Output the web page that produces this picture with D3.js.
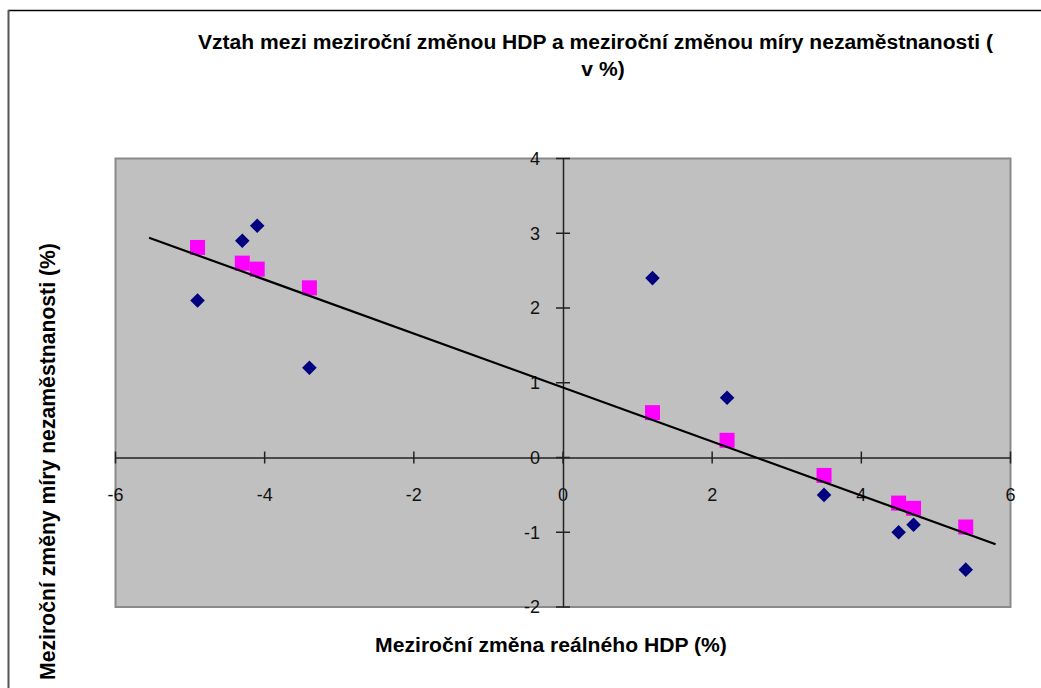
<!DOCTYPE html>
<html>
<head>
<meta charset="utf-8">
<script src="https://cdn.jsdelivr.net/npm/d3@7/dist/d3.min.js"></script>
<style>
  html, body { margin: 0; padding: 0; background: #fff; }
  svg { display: block; }
  text { font-family: "Liberation Sans", Arial, sans-serif; }
</style>
</head>
<body>
<svg id="chart" width="1041" height="688"></svg>
<script>
// ---- data ----
const actualX = [-4.9, -4.3, -4.1, -3.4, 1.2, 2.2, 3.5, 4.5, 4.7, 5.4];
const actualY = [2.1, 2.9, 3.1, 1.2, 2.4, 0.8, -0.5, -1.0, -0.9, -1.5];
const predictedX = [-4.9, -4.3, -4.1, -3.4, 1.2, 2.2, 3.5, 4.5, 4.7, 5.4];
const predictedY = [2.81, 2.6, 2.52, 2.27, 0.6, 0.23, -0.24, -0.61, -0.68, -0.93];
const trendX = [-5.55, 5.8];
const trendY = [2.94, -1.16];
const xTicks = [-6, -4, -2, 0, 2, 4, 6];
const yTicks = [-2, -1, 0, 1, 2, 3, 4];
const titleLines = ["Vztah mezi meziroční změnou HDP a meziroční změnou míry nezaměstnanosti (", "v %)"];
const xTitle = "Meziroční změna reálného HDP (%)";
const yTitle = "Meziroční změny míry nezaměstnanosti (%)";

const svg = d3.select("#chart");

// outer chart frame
svg.append("line").attr("x1", 8).attr("x2", 1041).attr("y1", 10.5).attr("y2", 10.5)
  .attr("stroke", "#000").attr("stroke-width", 1.5);
svg.append("line").attr("x1", 8.5).attr("x2", 8.5).attr("y1", 10).attr("y2", 688)
  .attr("stroke", "#555").attr("stroke-width", 2);

const plot = { left: 115.5, right: 1010.5, top: 158.5, bottom: 607 };
const x = d3.scaleLinear().domain([-6, 6]).range([plot.left, plot.right]);
const y = d3.scaleLinear().domain([-2, 4]).range([plot.bottom, plot.top]);

// plot area
svg.append("rect")
  .attr("x", plot.left).attr("y", plot.top)
  .attr("width", plot.right - plot.left).attr("height", plot.bottom - plot.top)
  .attr("fill", "#c0c0c0").attr("stroke", "#8a8a8a").attr("stroke-width", 2);

// axes crossing at zero
const xAxis = d3.axisBottom(x).tickValues(xTicks).tickSize(0).tickFormat("");
const gx = svg.append("g").attr("transform", `translate(0,${y(0)})`).call(xAxis);
gx.select(".domain").attr("stroke", "#222").attr("stroke-width", 1.5);
gx.selectAll(".tickmark").data(xTicks).enter().append("line")
  .attr("class", "tickmark")
  .attr("x1", d => x(d)).attr("x2", d => x(d)).attr("y1", -6).attr("y2", 6)
  .attr("stroke", "#222").attr("stroke-width", 1.5);
gx.selectAll(".xlab").data(xTicks).enter().append("text")
  .attr("class", "xlab")
  .attr("x", d => x(d)).attr("y", 37).attr("dy", "0.35em")
  .attr("text-anchor", "middle").attr("font-size", 18).attr("fill", "#111")
  .text(d => d);

const yAxis = d3.axisLeft(y).tickValues(yTicks).tickSize(0).tickFormat("");
const gy = svg.append("g").attr("transform", `translate(${x(0)},0)`).call(yAxis);
gy.select(".domain").attr("stroke", "#222").attr("stroke-width", 1.5);
gy.selectAll(".tickmark").data(yTicks).enter().append("line")
  .attr("class", "tickmark")
  .attr("y1", d => y(d)).attr("y2", d => y(d)).attr("x1", -7).attr("x2", 7)
  .attr("stroke", "#222").attr("stroke-width", 1.5);
gy.selectAll(".ylab").data(yTicks).enter().append("text")
  .attr("class", "ylab")
  .attr("x", -23).attr("y", d => y(d)).attr("dy", "0.35em")
  .attr("text-anchor", "end").attr("font-size", 18).attr("fill", "#111")
  .text(d => d);

// actual values: navy diamonds
const actual = actualX.map((v, i) => ({ x: v, y: actualY[i] }));
svg.append("g").selectAll("path").data(actual).enter().append("path")
  .attr("d", d3.symbol().type(d3.symbolDiamond2).size(135))
  .attr("transform", d => `translate(${x(d.x)},${y(d.y)})`)
  .attr("fill", "#000080");

// predicted values: magenta squares
const predicted = predictedX.map((v, i) => ({ x: v, y: predictedY[i] }));
svg.append("g").selectAll("rect").data(predicted).enter().append("rect")
  .attr("x", d => x(d.x) - 7.5).attr("y", d => y(d.y) - 7.5)
  .attr("width", 15).attr("height", 15)
  .attr("fill", "#ff00ff");

// trendline
const trend = trendX.map((v, i) => ({ x: v, y: trendY[i] }));
svg.append("path").datum(trend)
  .attr("d", d3.line().x(d => x(d.x)).y(d => y(d.y)))
  .attr("fill", "none").attr("stroke", "#000").attr("stroke-width", 2.2);

// text helpers: fit bold text to a target width
function fitText(sel, target) {
  const w = sel.node().getComputedTextLength();
  const fs = parseFloat(sel.attr("font-size"));
  sel.attr("font-size", (fs * target / w).toFixed(2));
}

// title
const t1 = svg.append("text").attr("x", 595.5).attr("y", 42).attr("dy", "0.35em")
  .attr("text-anchor", "middle").attr("font-weight", "bold").attr("font-size", 18)
  .attr("fill", "#000").text(titleLines[0]);
fitText(t1, 795);
const fsTitle = t1.attr("font-size");
svg.append("text").attr("x", 603).attr("y", 69).attr("dy", "0.35em")
  .attr("text-anchor", "middle").attr("font-weight", "bold").attr("font-size", fsTitle)
  .attr("fill", "#000").text(titleLines[1]);

// axis titles
const xt = svg.append("text").attr("x", 551).attr("y", 645).attr("dy", "0.35em")
  .attr("text-anchor", "middle").attr("font-weight", "bold").attr("font-size", 18)
  .attr("fill", "#000").text(xTitle);
fitText(xt, 352);

const yt = svg.append("text").attr("transform", "translate(48,461.5) rotate(-90)")
  .attr("dy", "0.35em")
  .attr("text-anchor", "middle").attr("font-weight", "bold").attr("font-size", 18)
  .attr("fill", "#000").text(yTitle);
fitText(yt, 437);
</script>
</body>
</html>
